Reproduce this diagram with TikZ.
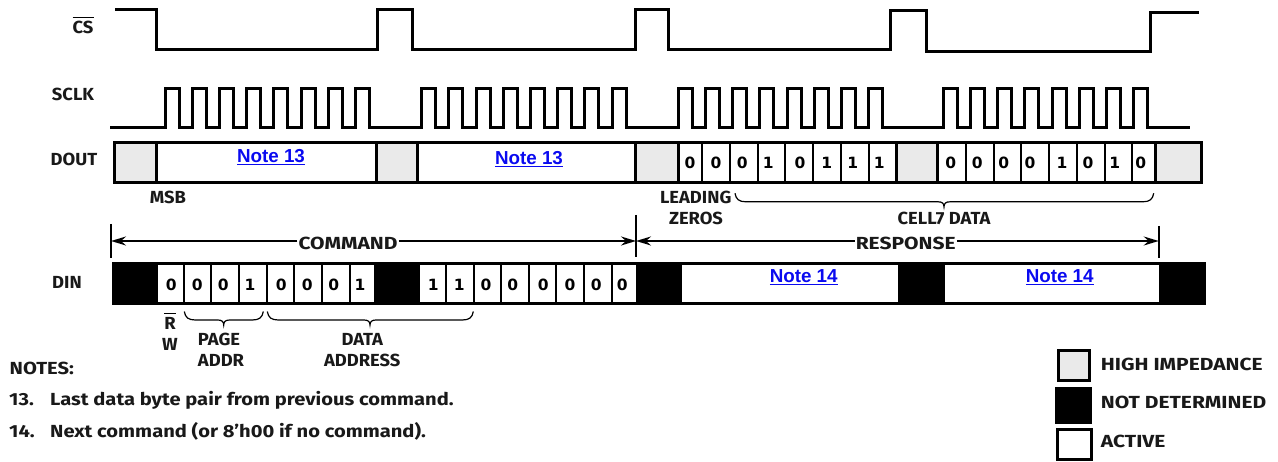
\documentclass[tikz,border=0pt]{standalone}
\usepackage{fontspec}
\setmainfont{Liberation Sans}
\newfontfamily\lblfont{Fira Sans}[FakeStretch=1.05]
\newfontfamily\notefont{Fira Sans}[FakeStretch=1.15]
\newfontfamily\widefont{Fira Sans}[FakeStretch=1.2]
\newfontfamily\bitfont{DejaVu Sans}
\usetikzlibrary{arrows.meta}
\definecolor{hiz}{HTML}{EAEAEA}
\definecolor{lnk}{HTML}{0A0AF0}
\newcommand{\brc}[4]{% x1, xm, x2, y
  \draw[bracel] (#1,#4) .. controls (#1+1,#4+6) and (#1+4,#4+8.5) .. (#1+11,#4+8.5) -- (#2-6,#4+8.5)
   .. controls (#2-2,#4+8.5) and (#2,#4+10) .. (#2,#4+13.5)
   .. controls (#2,#4+10) and (#2+2,#4+8.5) .. (#2+6,#4+8.5) -- (#3-11,#4+8.5)
   .. controls (#3-4,#4+8.5) and (#3-1,#4+6) .. (#3,#4);}
\tikzset{
  wave/.style={line width=3pt,black,miter limit=10},
  bar/.style={line width=3pt,draw=black},
  sep/.style={line width=2pt,black},
  lbl/.style={inner sep=0pt,font=\lblfont\fontsize{17.5}{20}\selectfont\bfseries,text=black!90},
  widelbl/.style={inner sep=0pt,inner xsep=1pt,font=\widefont\fontsize{17.5}{20}\selectfont\bfseries,text=black!90},
  noteline/.style={inner sep=0pt,anchor=west,font=\notefont\fontsize{17.5}{20}\selectfont\bfseries,text=black!90},
  legendlbl/.style={inner sep=0pt,anchor=west,font=\widefont\fontsize{17.5}{20}\selectfont\bfseries,text=black!90},
  bit/.style={inner sep=0pt,font=\bitfont\fontsize{15.5}{18}\selectfont\bfseries},
  lnkn/.style={inner sep=0pt,font=\fontsize{18.8}{20}\selectfont\bfseries,text=lnk},
  dimtip/.style={line width=2pt,black,-{Stealth[length=15pt,width=9pt,inset=5pt]}},
  tick/.style={line width=2pt,black},
  bracel/.style={line width=1.2pt,black},
  legendbox/.style={line width=3pt,draw=black},
}
\begin{document}
\begin{tikzpicture}[x=1pt,y=-1pt]
\useasboundingbox (0,0) rectangle (1278,462);
% CS
\draw[wave] (115,10) -- (156,10) -- (156,50) -- (377.5,50) -- (377.5,10) -- (412.5,10) -- (412.5,50) -- (635,50) -- (635,10) -- (668,10) -- (668,50) -- (890.7,50) -- (890.7,11) -- (926.7,11) -- (926.7,52) -- (1150.7,52) -- (1150.7,12.5) -- (1199,12.5);
% SCLK
\draw[wave] (110,128) foreach \s in {165,421.7,678.3,943.3} { foreach \k in {0,...,7} {
  -- ({\s+27.2*\k},128) -- ({\s+27.2*\k},89) -- ({\s+27.2*\k+14},89) -- ({\s+27.2*\k+14},128) } } -- (1190,128);
% DOUT
\foreach \a/\b in {115/156.5,376/417.5,635/678,896.7/937,1155/1201}
  \fill[hiz] (\a,143) rectangle (\b,183);
\foreach \x in {156.5,376,417.5,635,678,896.7,937,1155}
  \draw[bar] (\x,143) -- (\x,183);
\foreach \x in {701.7,730,758,785.3,813.3,841.3,868.7,965.7,993.7,1021,1049,1077,1105,1132.3}
  \draw[sep] (\x,143) -- (\x,183);
\draw[bar] (114.5,143) rectangle (1201,183);
\foreach \x/\d [count=\i] in {690/0,716/0,742.3/0,768.3/1,800/0,826.7/1,852.7/1,879.3/1,950.7/0,977.3/0,1003.7/0,1030/0,1062/1,1088/0,1114.7/1,1140.7/0}
  \node[bit] (dout\i) at (\x,163) {\d};
\node[lnkn] (n13a) at (271,157.5) {\underline{Note 13}};
\node[lnkn] (n13b) at (529,159.5) {\underline{Note 13}};
% Dimension lines
\coordinate (tl1) at (111,224); \coordinate (tl2) at (111,258);
\coordinate (tm1) at (636,215); \coordinate (tm2) at (636,257);
\coordinate (tr1) at (1158.7,226); \coordinate (tr2) at (1158.7,258);
\coordinate (al) at (111,241); \coordinate (am) at (636,241); \coordinate (ar) at (1158.7,241);
\draw[tick] (tl1) -- (tl2);
\draw[tick] (tm1) -- (tm2);
\draw[tick] (tr1) -- (tr2);
\node[widelbl] (cmd) at (348,243) {COMMAND};
\node[widelbl] (rsp) at (905.7,243) {RESPONSE};
\draw[dimtip] (cmd.west |- al) -- (al);
\draw[dimtip] (cmd.east |- al) -- (am);
\draw[dimtip] (rsp.west |- al) -- (am);
\draw[dimtip] (rsp.east |- al) -- (ar);
% DIN
\fill[black] (112,262) rectangle (1205.7,305);
\foreach \a/\b in {158/374,419.7/636,682/898,945/1159}
  \fill[white] (\a,265) rectangle (\b,302);
\foreach \x in {184,210.8,239,267,294,321.7,350,446,473.7,501,529,556,584,611.7}
  \draw[sep] (\x,263) -- (\x,304);
\foreach \x/\d [count=\i] in {171.3/0,197.3/0,223.3/0,250/1,281.3/0,307.3/0,333.7/0,360/1,433.3/1,459.3/1,486/0,512.7/0,543.3/0,570/0,596.3/0,622.3/0}
  \node[bit] (din\i) at (\x,285) {\d};
\node[lnkn] (n14a) at (803.7,277) {\underline{Note 14}};
\node[lnkn] (n14b) at (1059.7,277) {\underline{Note 14}};
% Braces
\brc{735}{944}{1153.7}{193.3}
\brc{184.3}{223.7}{263.3}{311.5}
\brc{267.3}{370}{473.3}{311.5}
% Signal names
\node[lbl] (cs) at (83,27.5) {CS};
\draw[line width=1pt] (72.5,17.5) -- (94,17.5);
\node[lbl] (sclk) at (73,94) {SCLK};
\node[lbl] (dout) at (74,159) {DOUT};
\node[lbl] (din) at (67,282) {DIN};
\node[lbl] (msb) at (168,197) {MSB};
\node[lbl] (lead) at (695.7,197) {LEADING};
\node[lbl] (zeros) at (696,218) {ZEROS};
\node[lbl] (cell) at (944,218) {CELL7 DATA};
\node[lbl] (rbar) at (170,323) {R};
\draw[line width=1pt] (164,313.5) -- (176,313.5);
\node[lbl] (wr) at (170,344) {W};
\node[lbl] (page) at (219,339) {PAGE};
\node[lbl] (addr) at (221,360) {ADDR};
\node[lbl] (data) at (362.3,339) {DATA};
\node[lbl] (daddr) at (362.3,360) {ADDRESS};
% Notes
\node[noteline] (notes) at (9.5,368) {NOTES:};
\node[noteline] (n13num) at (9,400) {13.};
\node[noteline] (n13txt) at (50,400) {Last data byte pair from previous command.};
\node[noteline] (n14num) at (9,431.7) {14.};
\node[noteline] (n14txt) at (50,431.7) {Next command (or 8’h00 if no command).};
% Legend
\draw[legendbox,fill=hiz] (1058.8,350.5) rectangle (1089.5,380.2);
\fill[black] (1055,387.3) rectangle (1092,424);
\draw[legendbox] (1057,429.5) rectangle (1091,459.5);
\node[legendlbl] (lg1) at (1100.7,364) {HIGH IMPEDANCE};
\node[legendlbl] (lg2) at (1100.7,402.7) {NOT DETERMINED};
\node[legendlbl] (lg3) at (1100.7,441.7) {ACTIVE};
\end{tikzpicture}
\end{document}
